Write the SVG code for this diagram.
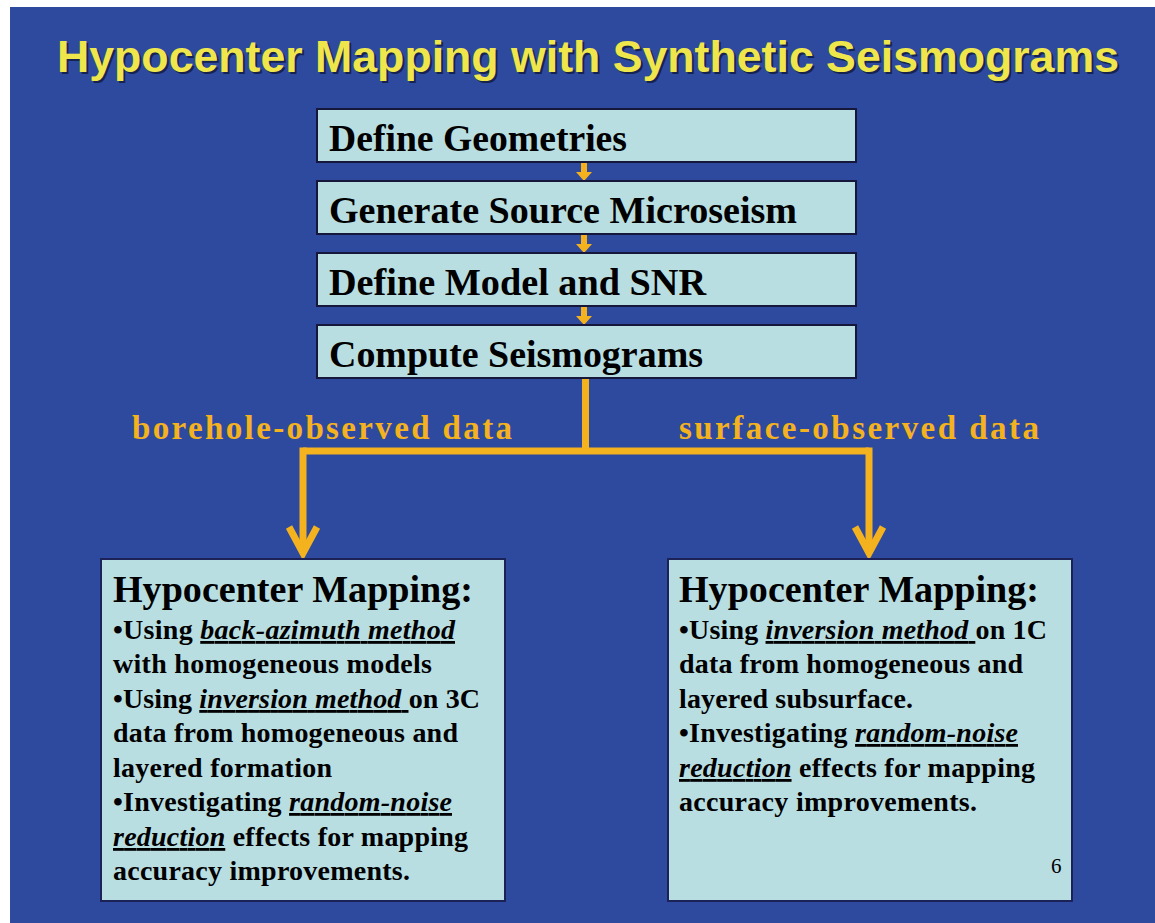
<svg xmlns="http://www.w3.org/2000/svg" width="1155" height="923" viewBox="0 0 1155 923">
  <defs>
    <style>
      .title { font-family: "Liberation Sans", Arial, sans-serif; font-weight: bold; font-size: 45px; fill: #EFE64C; }
      .shadow { fill: #16234F; }
      .step { fill: #B9DEE2; stroke: #15183A; stroke-width: 2; }
      .panel { fill: #B9DEE2; stroke: #1C2258; stroke-width: 2; }
      .steptext { font-family: "Liberation Serif", "Times New Roman", serif; font-weight: bold; font-size: 37px; fill: #000; }
      .label { font-family: "Liberation Serif", "Times New Roman", serif; font-weight: bold; font-size: 33px; fill: #F4B21E; }
      .head { font-family: "Liberation Serif", "Times New Roman", serif; font-weight: bold; font-size: 38px; fill: #000; }
      .body { font-family: "Liberation Serif", "Times New Roman", serif; font-weight: bold; font-size: 28px; fill: #000; }
      .em { font-style: italic; text-decoration: underline; }
      .wire { fill: none; stroke: #F4B21E; stroke-width: 7; }
      .tip { fill: none; stroke: #F4B21E; stroke-width: 7; stroke-linejoin: miter; stroke-linecap: butt; }
      .small { fill: #F4B21E; }
    </style>
  </defs>

  <!-- page frame -->
  <rect x="0" y="0" width="1155" height="923" fill="#FFFFFF"/>
  <rect x="10" y="7" width="1145" height="916" fill="#2E4A9F"/>

  <!-- heading -->
  <g id="title">
    <text class="title shadow" x="59" y="74" textLength="1062" lengthAdjust="spacingAndGlyphs">Hypocenter Mapping with Synthetic Seismograms</text>
    <text class="title" x="57" y="72" textLength="1062" lengthAdjust="spacingAndGlyphs">Hypocenter Mapping with Synthetic Seismograms</text>
  </g>

  <!-- connectors -->
  <g id="connectors">
    <!-- short steps between stacked boxes -->
    <g class="small">
      <rect x="581" y="163" width="6" height="10"/>
      <polygon points="576,172 592,172 584,181"/>
      <rect x="581" y="235" width="6" height="10"/>
      <polygon points="576,244 592,244 584,253"/>
      <rect x="581" y="307" width="6" height="10"/>
      <polygon points="576,316 592,316 584,325"/>
    </g>
    <!-- split to the two mapping panels -->
    <path class="wire" d="M585.5,379 V451"/>
    <path class="wire" d="M303,451 H869"/>
    <path class="wire" d="M303,447.5 V552"/>
    <path class="wire" d="M869,447.5 V552"/>
    <path class="tip" d="M289,527 L303,553 L317,527"/>
    <path class="tip" d="M855,527 L869,553 L883,527"/>
  </g>

  <!-- branch labels -->
  <g id="label-borehole">
    <text class="label" x="132" y="439" textLength="380" lengthAdjust="spacing">borehole-observed data</text>
  </g>
  <g id="label-surface">
    <text class="label" x="679" y="439" textLength="360" lengthAdjust="spacing">surface-observed data</text>
  </g>

  <!-- process steps -->
  <g id="step-geometries">
    <rect class="step" x="317" y="109" width="539" height="53"/>
    <text class="steptext" x="329" y="151" textLength="298" lengthAdjust="spacingAndGlyphs">Define Geometries</text>
  </g>
  <g id="step-source">
    <rect class="step" x="317" y="181" width="539" height="53"/>
    <text class="steptext" x="329" y="223" textLength="468" lengthAdjust="spacingAndGlyphs">Generate Source Microseism</text>
  </g>
  <g id="step-model">
    <rect class="step" x="317" y="253" width="539" height="53"/>
    <text class="steptext" x="329" y="295" textLength="377" lengthAdjust="spacingAndGlyphs">Define Model and SNR</text>
  </g>
  <g id="step-compute">
    <rect class="step" x="317" y="325" width="539" height="53"/>
    <text class="steptext" x="329" y="367" textLength="374" lengthAdjust="spacingAndGlyphs">Compute Seismograms</text>
  </g>

  <!-- borehole panel -->
  <g id="panel-borehole">
    <rect class="panel" x="101" y="559" width="404" height="342"/>
    <text class="head" x="113" y="602" textLength="360" lengthAdjust="spacingAndGlyphs">Hypocenter Mapping:</text>
    <text class="body" x="113" y="639" textLength="342" lengthAdjust="spacing">•Using <tspan class="em">back-azimuth method</tspan></text>
    <text class="body" x="113" y="673" textLength="319" lengthAdjust="spacing">with homogeneous models</text>
    <text class="body" x="113" y="708" textLength="367" lengthAdjust="spacing">•Using <tspan class="em">inversion method </tspan>on 3C</text>
    <text class="body" x="113" y="742" textLength="345" lengthAdjust="spacing">data from homogeneous and</text>
    <text class="body" x="113" y="777" textLength="219" lengthAdjust="spacing">layered formation</text>
    <text class="body" x="113" y="811" textLength="339" lengthAdjust="spacing">•Investigating <tspan class="em">random-noise</tspan></text>
    <text class="body" x="113" y="846" textLength="355" lengthAdjust="spacing"><tspan class="em">reduction</tspan> effects for mapping</text>
    <text class="body" x="113" y="880" textLength="297" lengthAdjust="spacing">accuracy improvements.</text>
  </g>

  <!-- surface panel -->
  <g id="panel-surface">
    <rect class="panel" x="668" y="559" width="404" height="342"/>
    <text class="head" x="679" y="602" textLength="360" lengthAdjust="spacingAndGlyphs">Hypocenter Mapping:</text>
    <text class="body" x="679" y="639" textLength="368" lengthAdjust="spacing">•Using <tspan class="em">inversion method </tspan>on 1C</text>
    <text class="body" x="679" y="673" textLength="344" lengthAdjust="spacing">data from homogeneous and</text>
    <text class="body" x="679" y="708" textLength="234" lengthAdjust="spacing">layered subsurface.</text>
    <text class="body" x="679" y="742" textLength="339" lengthAdjust="spacing">•Investigating <tspan class="em">random-noise</tspan></text>
    <text class="body" x="679" y="777" textLength="356" lengthAdjust="spacing"><tspan class="em">reduction</tspan> effects for mapping</text>
    <text class="body" x="679" y="811" textLength="298" lengthAdjust="spacing">accuracy improvements.</text>
    <text x="1051" y="873" font-family="Liberation Serif, Times New Roman, serif" font-size="21" fill="#000">6</text>
  </g>
</svg>
